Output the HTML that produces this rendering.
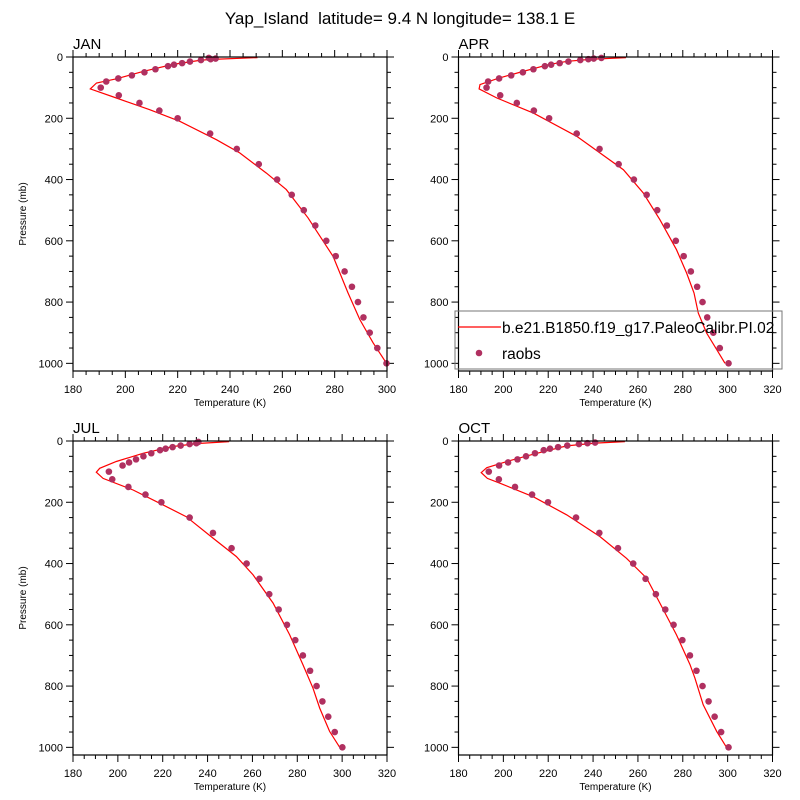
<!DOCTYPE html>
<html><head><meta charset="utf-8"><style>
body{margin:0;background:#fff}
svg{display:block;font-family:"Liberation Sans",sans-serif}
</style></head><body>
<svg id="chart" width="800" height="800" viewBox="0 0 800 800">
<text x="400" y="24" font-size="17" text-anchor="middle" style="white-space:pre" xml:space="preserve">Yap_Island  latitude= 9.4 N longitude= 138.1 E</text>
</svg>
<script>
const obsP=[3,5,7,10,15,20,25,30,40,50,60,70,80,100,125,150,175,200,250,300,350,400,450,500,550,600,650,700,750,800,850,900,950,1000];
const janObsT=[231.9,234.5,232.6,228.9,224.7,221.7,218.6,216.3,211.5,207.3,202.5,197.3,192.7,190.6,197.5,205.4,213,220,232.4,242.6,251,258,263.6,268.2,272.6,276.8,280.4,283.8,286.6,288.9,291,293.4,296.3,299.8];
const aprObsT=[243.7,240.3,237.9,234.3,229,225.1,221.3,218.5,213.4,208.7,203.5,198.1,193.2,192.5,198.6,206,213.6,220.4,232.7,242.9,251.4,258.2,263.9,268.6,272.9,276.9,280.4,283.6,286.4,288.8,290.9,293.6,296.5,300.4];
const julObsT=[235.9,null,235,232,228,224.4,221.3,218.8,214.9,211.4,208.1,205,202.1,196,197.5,204.7,212.3,219.4,232,242.4,250.7,257.4,263.1,267.5,271.7,275.4,279.1,282.5,285.7,288.6,291.2,293.8,296.7,300.1];
const octObsT=[null,240.9,237.5,233.7,228.5,224.4,220.8,218,214.1,210.1,206.3,202.1,198.1,193.5,198,205.2,212.8,219.9,232.4,242.8,251.1,257.9,263.4,268,272.2,275.9,279.8,283.2,286.1,288.8,291.5,294.2,297.1,300.4];
const janModelP=[2,8,11,24,47,71,85,104,134,172,210,270,313,379,433,525,651,770,857,933,1000];
const janModelT=[250.5,232.2,228.4,218.2,206.8,196.6,189,186.6,196.6,209.3,220.8,234.8,243.7,253.9,261.5,269.8,279.4,285.1,289.6,294.7,299.8];
const aprModelP=[2,7,14,24,49,70,90,104,134,183,259,368,444,531,629,705,770,836,901,955,1000];
const aprModelT=[254.7,240,228.5,220.5,207.8,197.5,189.6,189.2,197.1,213.4,232.7,253.5,262.4,269.8,277.2,281.7,285,286.9,290.6,295.1,298.8];
const julModelP=[2,8,18,40,67,89,102,122,160,203,247,317,377,437,529,633,730,807,872,948,1000];
const julModelT=[249.6,235.7,224.6,211.2,199.3,191.9,190.4,193.4,206.8,218.6,230.5,242.4,252.8,260.3,269.2,276.6,282.5,287,290,294.4,298.9];
const octModelP=[2,7,16,43,64,87,103,122,138,182,241,312,383,448,529,633,730,774,861,948,1000];
const octModelT=[254.2,240.9,228.2,213.4,203,192.6,190.1,192.9,198.6,213.4,228.2,243.1,254.9,263.9,269.8,277.2,283.2,285.4,289.1,295.1,299.5];
const panelLabels=["JAN","APR","JUL","OCT"];
const xMaxes=[300,320,320,320];
const xTickVals=[[180,200,220,240,260,280,300],[180,200,220,240,260,280,300,320],[180,200,220,240,260,280,300,320],[180,200,220,240,260,280,300,320]];
const yTickVals=[0,200,400,600,800,1000];

const NS="http://www.w3.org/2000/svg";
const svg=document.getElementById('chart');
function mk(tag,attrs,parent){const e=document.createElementNS(NS,tag);for(const k in attrs)e.setAttribute(k,attrs[k]);(parent||svg).appendChild(e);return e;}
const boxes=[{l:73,t:57,w:314,h:314},{l:458.5,t:57,w:314,h:314},{l:73,t:441,w:314,h:314},{l:458.5,t:441,w:314,h:314}];
const obsSets=[janObsT,aprObsT,julObsT,octObsT];
const modelP=[janModelP,aprModelP,julModelP,octModelP];
const modelT=[janModelT,aprModelT,julModelT,octModelT];
const yMax=1025;
for(let i=0;i<4;i++){
  const b=boxes[i];
  const g=mk('g',{});
  
  
  const xs=t=>b.l+(t-180)/(xMaxes[i]-180)*b.w;
  const ys=p=>b.t+p/yMax*b.h;
  for(let t=180;t<=xMaxes[i];t+=5){
    const major=(t%20===0);const len=major?7:4;
    mk('line',{x1:xs(t),x2:xs(t),y1:b.t+b.h,y2:b.t+b.h+len,stroke:'#000','stroke-width':1},g);
    mk('line',{x1:xs(t),x2:xs(t),y1:b.t,y2:b.t-len,stroke:'#000','stroke-width':1},g);
  }
  for(let p=0;p<=1000;p+=50){
    const major=(p%200===0);const len=major?7:4;
    mk('line',{x1:b.l,x2:b.l-len,y1:ys(p),y2:ys(p),stroke:'#000','stroke-width':1},g);
    mk('line',{x1:b.l+b.w,x2:b.l+b.w+len,y1:ys(p),y2:ys(p),stroke:'#000','stroke-width':1},g);
  }
  xTickVals[i].forEach(v=>{const tx=mk('text',{x:xs(v),y:b.t+b.h+22,'font-size':11,'text-anchor':'middle'},g);tx.textContent=v;
    
    });
  yTickVals.forEach(v=>{const tx=mk('text',{x:b.l-10,y:ys(v)+4,'font-size':11,'text-anchor':'end'},g);tx.textContent=v;
    
    });
  const lab=mk('text',{x:b.l,y:b.t-8,'font-size':15},g);lab.textContent=panelLabels[i];
  
  
  const xt=mk('text',{x:b.l+b.w/2,y:b.t+b.h+35,'font-size':10,'text-anchor':'middle'},g);xt.textContent='Temperature (K)';
  
  
  if(i%2===0){const yt=mk('text',{x:0,y:0,'font-size':10,'text-anchor':'middle',transform:`translate(${b.l-47},${b.t+b.h/2}) rotate(-90)`},g);yt.textContent='Pressure (mb)';
    
    }
  const pts=modelT[i].map((t,k)=>xs(t).toFixed(1)+','+ys(modelP[i][k]).toFixed(1)).join(' ');
  const pl=mk('polyline',{points:pts,fill:'none',stroke:'#ff0000','stroke-width':1.2},g);
  
  
  obsSets[i].forEach((t,k)=>{if(t==null)return;const c=mk('circle',{cx:xs(t),cy:ys(obsP[k]),r:3.3,fill:'#b03060'},g);
    
    });
  mk('rect',{x:b.l,y:b.t,width:b.w,height:b.h,fill:'none',stroke:'#000','stroke-width':1.2},g);
}
const lg=mk('g',{});


mk('rect',{x:455,y:311,width:327,height:58,fill:'none',stroke:'#777','stroke-width':1},lg);
mk('line',{x1:458,x2:501,y1:327,y2:327,stroke:'#ff0000','stroke-width':1.2},lg);
const l1=mk('text',{x:502,y:333,'font-size':15.5},lg);l1.textContent='b.e21.B1850.f19_g17.PaleoCalibr.PI.02';


mk('circle',{cx:479,cy:353,r:3.3,fill:'#b03060'},lg);
const l2=mk('text',{x:502,y:359,'font-size':15.5},lg);l2.textContent='raobs';


</script>
</body></html>
